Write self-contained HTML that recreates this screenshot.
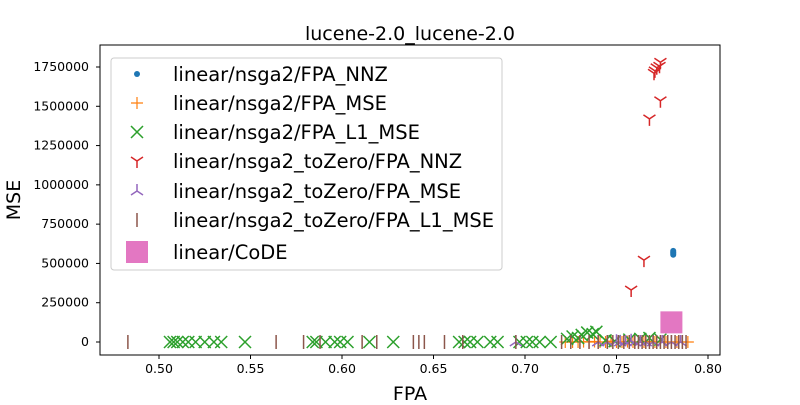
<!DOCTYPE html>
<html><head><meta charset="utf-8"><style>
body{margin:0;background:#fff;}
svg text{font-family:"DejaVu Sans","Liberation Sans",sans-serif;}
</style></head><body>
<svg id="chart" width="800" height="400"></svg>
<script>
const nnzX=[0.781,0.781,0.781,0.781];
const nnzY=[555000,565000,572000,580000];
const mseX=[0.722,0.726,0.729,0.732,0.735,0.738,0.741,0.744,0.747,0.75,0.753,0.756,0.759,0.762,0.765,0.768,0.771,0.774,0.777,0.78,0.783,0.786,0.789];
const mseY=[0,0,0,2000,0,3000,0,0,5000,0,0,2000,0,0,0,3000,0,0,0,0,0,0,0];
const l1X=[0.506,0.508,0.510,0.513,0.516,0.520,0.525,0.530,0.534,0.547,0.584,0.586,0.591,0.596,0.599,0.603,0.615,0.628,0.664,0.667,0.670,0.674,0.681,0.685,0.697,0.701,0.704,0.708,0.714,0.723,0.726,0.729,0.731,0.734,0.737,0.739,0.744,0.749,0.757,0.763,0.768,0.774];
const l1Y=[0,0,0,0,0,0,0,0,0,0,0,0,0,0,0,0,0,0,0,0,0,0,0,0,0,0,0,0,0,20000,35000,25000,45000,60000,50000,65000,10000,5000,15000,20000,25000,15000];
const tzNnzX=[0.774,0.7735,0.772,0.771,0.7705,0.774,0.768,0.765,0.758];
const tzNnzY=[1780000,1755000,1745000,1725000,1710000,1535000,1420000,521000,331000];
const tzMseX=[0.695,0.74,0.745,0.75,0.752,0.755,0.758,0.76,0.763,0.766,0.77,0.775,0.78,0.785];
const tzMseY=[0,0,0,5000,0,0,8000,0,0,0,0,0,0,0];
const tzL1X=[0.483,0.564,0.579,0.588,0.611,0.619,0.639,0.642,0.645,0.656,0.666,0.695,0.720,0.725,0.73,0.735,0.74,0.745,0.748,0.751,0.754,0.757,0.760,0.762,0.764,0.766,0.768,0.770,0.772,0.774,0.776,0.778,0.780,0.782,0.784,0.786,0.788];
const tzL1Y=new Array(37).fill(0);
const codeX=[0.78];const codeY=[125000];
const xTicks=[0.50,0.55,0.60,0.65,0.70,0.75,0.80];
const yTicks=[0,250000,500000,750000,1000000,1250000,1500000,1750000];
const legendLabels=["linear/nsga2/FPA_NNZ","linear/nsga2/FPA_MSE","linear/nsga2/FPA_L1_MSE","linear/nsga2_toZero/FPA_NNZ","linear/nsga2_toZero/FPA_MSE","linear/nsga2_toZero/FPA_L1_MSE","linear/CoDE"];

const svg=document.getElementById('chart');const NS='http://www.w3.org/2000/svg';
const L=100,R=720,T=45,B=355;
const sx=v=>159+(v-0.5)*1830;
const sy=v=>342-v*(275/1750000);
function mk(tag,attrs,parent){const e=document.createElementNS(NS,tag);for(const k in attrs)e.setAttribute(k,attrs[k]);(parent||svg).appendChild(e);return e;}
function marker(type,x,y,g){
  if(type==='dot'){mk('circle',{cx:x,cy:y,r:3,fill:'#1f77b4'},g);}
  else if(type==='plus'){mk('path',{d:`M${x-6},${y}H${x+6}M${x},${y-6}V${y+6}`,stroke:'#ff7f0e','stroke-width':1.2,fill:'none'},g);}
  else if(type==='x'){mk('path',{d:`M${x-6},${y-6}L${x+6},${y+6}M${x-6},${y+6}L${x+6},${y-6}`,stroke:'#2ca02c','stroke-width':1.5,fill:'none'},g);}
  else if(type==='tri_down'){mk('path',{d:`M${x},${y}V${y+7}M${x},${y}L${x-6},${y-4}M${x},${y}L${x+6},${y-4}`,stroke:'#d62728','stroke-width':1.5,fill:'none'},g);}
  else if(type==='tri_up'){mk('path',{d:`M${x},${y}V${y-7}M${x},${y}L${x-6},${y+4}M${x},${y}L${x+6},${y+4}`,stroke:'#9467bd','stroke-width':1.5,fill:'none'},g);}
  else if(type==='vline'){mk('path',{d:`M${x},${y-7}V${y+7}`,stroke:'#8c564b','stroke-width':1.5,fill:'none'},g);}
  else if(type==='sq'){mk('rect',{x:x-11,y:y-11,width:22,height:22,fill:'#e377c2'},g);}
}
const title=mk('text',{x:410,y:40,'font-size':19,'text-anchor':'middle',fill:'#000'});title.textContent='lucene-2.0_lucene-2.0';

mk('rect',{x:L,y:T,width:R-L,height:B-T,fill:'none',stroke:'#000','stroke-width':1});
const xg=mk('g',{});
xTicks.forEach(t=>{const x=sx(t);mk('line',{x1:x,x2:x,y1:B,y2:B+4,stroke:'#000'},xg);const tx=mk('text',{x:x,y:B+18,'font-size':12.5,'text-anchor':'middle'},xg);tx.textContent=t.toFixed(2);});
const yg=mk('g',{});
yTicks.forEach(t=>{const y=sy(t);mk('line',{x1:L-4,x2:L,y1:y,y2:y,stroke:'#000'},yg);const tx=mk('text',{x:L-11,y:y+4,'font-size':12.5,'text-anchor':'end'},yg);tx.textContent=String(t);});
const xl=mk('text',{x:410,y:400,'font-size':19,'text-anchor':'middle'});xl.textContent='FPA';

const yl=mk('text',{x:20,y:200,'font-size':19,'text-anchor':'middle',transform:'rotate(-90 20 200)'});yl.textContent='MSE';

const series=[[nnzX,nnzY,'dot'],[mseX,mseY,'plus'],[l1X,l1Y,'x'],[tzNnzX,tzNnzY,'tri_down'],[tzMseX,tzMseY,'tri_up'],[tzL1X,tzL1Y,'vline'],[codeX,codeY,'sq']];
const names=['series-nnz','series-mse','series-l1-mse','series-tozero-nnz','series-tozero-mse','series-tozero-l1-mse','series-code'];
series.forEach((s,i)=>{const g=mk('g',{});
  s[0].forEach((v,j)=>marker(s[2],sx(v),sy(s[1][j]),g));});
const lg=mk('g',{});
mk('rect',{x:111,y:58,width:391,height:212,rx:3,fill:'#fff','fill-opacity':0.8,stroke:'#ccc'},lg);
const lys=[74,103,132,161,191,220,252];
legendLabels.forEach((lab,i)=>{const e=mk('g',{},lg);
  marker(series[i][2],137,lys[i],e);const t=mk('text',{x:173,y:lys[i]+7,'font-size':19.5},e);t.textContent=lab;});
</script>
</body></html>
